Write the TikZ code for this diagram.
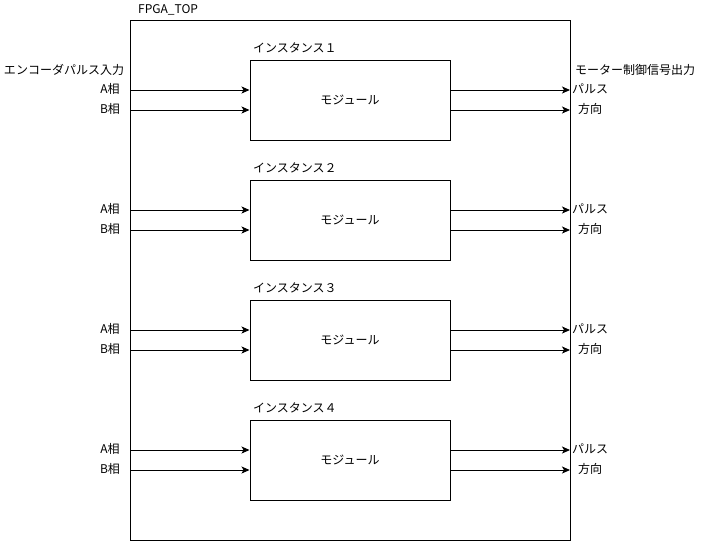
\documentclass[tikz,border=0pt]{standalone}
\usepackage{fontspec}
\setmainfont{Noto Sans CJK JP}
\usetikzlibrary{arrows.meta}
\tikzset{
  lbl/.style={inner sep=0pt, font=\fontsize{12}{14}\selectfont},
  modbox/.style={draw, line width=1pt, minimum width=200pt, minimum height=80pt, inner sep=0pt, font=\fontsize{12}{14}\selectfont},
  sig/.style={line width=1pt, -{Stealth[length=8pt,width=7pt,inset=2pt]}}
}
\begin{document}
\begin{tikzpicture}[x=1pt,y=-1pt]
\useasboundingbox[fill=white] (0,0) rectangle (701,542);
\node[draw, line width=1pt, minimum width=440pt, minimum height=520pt, inner sep=0pt] (top) at (350,280) {};
\node[lbl, anchor=west] (toplbl) at (138,10) {FPGA\_TOP};
\node[lbl] (encin) at (64,70) {エンコーダパルス入力};
\node[lbl] (motout) at (635,70) {モーター制御信号出力};
\foreach \i/\y/\n in {1/100/１,2/220/２,3/340/３,4/460/４}{
  \node[modbox] (m\i) at (350,\y) {モジュール};
  \node[lbl, anchor=west] (inst\i) at (253,\y-52) {インスタンス\n};
  \coordinate (ia\i) at (130,\y-10);
  \coordinate (ib\i) at (130,\y+10);
  \coordinate (oa\i) at (570,\y-10);
  \coordinate (ob\i) at (570,\y+10);
  \node[lbl] (la\i) at (110,\y-11) {A相};
  \node[lbl] (lb\i) at (110,\y+9) {B相};
  \node[lbl] (lp\i) at (590,\y-11) {パルス};
  \node[lbl] (ld\i) at (590,\y+9) {方向};
  \draw[sig] (ia\i) -- (ia\i -| m\i.west);
  \draw[sig] (ib\i) -- (ib\i -| m\i.west);
  \draw[sig] (oa\i -| m\i.east) -- (oa\i);
  \draw[sig] (ob\i -| m\i.east) -- (ob\i);
}
\end{tikzpicture}
\end{document}
